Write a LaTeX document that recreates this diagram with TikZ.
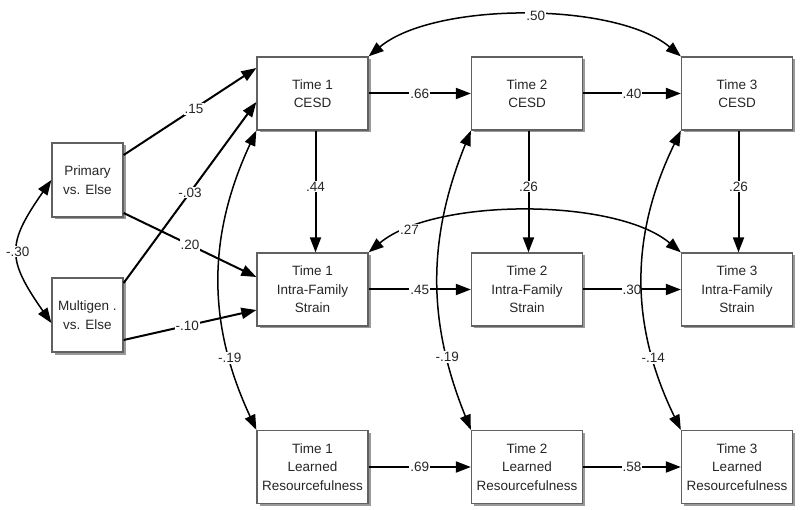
\documentclass[tikz,border=0pt]{standalone}
\usepackage{fontspec}
\setmainfont{Liberation Sans}
\usetikzlibrary{arrows.meta,shadows,calc}
\begin{document}
\begin{tikzpicture}[x=1pt,y=1pt,
  box/.style={draw=black!62, line width=1.3pt, fill=white, align=center, inner sep=0pt,
     text=black!85, font=\fontsize{13.5}{18.5}\selectfont,
     drop shadow={shadow xshift=2.5pt, shadow yshift=-2.5pt, fill=black!40, opacity=1}},
  mbox/.style={box, minimum width=111pt, minimum height=73pt},
  sbox/.style={box, minimum width=71pt, minimum height=74pt},
  tip/.tip={Triangle[length=15pt,width=11pt]},
  arr/.style={-tip, line width=2pt},
  carr/.style={tip-tip, line width=1.5pt},
  lbl/.style={fill=white, inner sep=1pt, text=black!85, font=\fontsize{13.5}{16}\selectfont}
]
\useasboundingbox (0,0) rectangle (800,-510);

% boxes
\node[sbox] (P) at (87.5,-180) {Primary\\vs. Else};
\node[sbox] (M) at (87.5,-315) {Multigen .\\vs. Else};
\node[mbox] (C1) at (312.5,-93.5) {Time 1\\CESD};
\node[mbox] (C2) at (527,-93.5) {Time 2\\CESD};
\node[mbox] (C3) at (737,-93.5) {Time 3\\CESD};
\node[mbox] (S1) at (312.5,-289.5) {Time 1\\Intra-Family\\Strain};
\node[mbox] (S2) at (527,-289.5) {Time 2\\Intra-Family\\Strain};
\node[mbox] (S3) at (737,-289.5) {Time 3\\Intra-Family\\Strain};
\node[mbox] (L1) at (312.5,-467) {Time 1\\Learned\\Resourcefulness};
\node[mbox] (L2) at (527,-467) {Time 2\\Learned\\Resourcefulness};
\node[mbox] (L3) at (737,-467) {Time 3\\Learned\\Resourcefulness};

% exogenous paths
\draw[arr] ([yshift=25pt]P.east) -- node[lbl,pos=0.53]{.15} ([yshift=25.5pt]C1.west);
\draw[arr] ([yshift=32pt]M.east) -- node[lbl,pos=0.5]{-.03} ([yshift=-8.5pt]C1.west);
\draw[arr] ([yshift=-33pt]P.east) -- node[lbl,pos=0.5]{.20} ([yshift=12.5pt]S1.west);
\draw[arr] ([yshift=-25pt]M.east) -- node[lbl,pos=0.48]{-.10} ([yshift=-20.5pt]S1.west);
\draw[carr] (P.west) to[out=235,in=125,looseness=1.4] node[lbl]{-.30} ([yshift=-8pt]M.west);

% horizontal paths
\draw[arr] (C1) -- node[lbl]{.66} (C2);
\draw[arr] (C2) -- node[lbl]{.40} (C3);
\draw[arr] (S1) -- node[lbl]{.45} (S2);
\draw[arr] (S2) -- node[lbl]{.30} (S3);
\draw[arr] (L1) -- node[lbl]{.69} (L2);
\draw[arr] (L2) -- node[lbl]{.58} (L3);

% vertical paths
\draw[arr] ([xshift=3pt]C1.south) -- node[lbl,pos=0.46]{.44} ([xshift=3pt]S1.north);
\draw[arr] ([xshift=1.5pt]C2.south) -- node[lbl,pos=0.46]{.26} ([xshift=1.5pt]S2.north);
\draw[arr] ([xshift=1.5pt]C3.south) -- node[lbl,pos=0.46]{.26} ([xshift=1.5pt]S3.north);

% correlations
\draw[carr] (C1.north east) to[out=40,in=140,looseness=0.7] node[lbl,pos=0.53]{.50} (C3.north west);
\draw[carr] (S1.north east) to[out=40,in=140,looseness=0.7] node[lbl,pos=0.165]{.27} (S3.north west);
\draw[carr] (C1.south west) to[out=245,in=115] node[lbl,pos=0.765]{-.19} (L1.north west);
\draw[carr] (C2.south west) to[out=248,in=112] node[lbl,pos=0.765]{-.19} (L2.north west);
\draw[carr] (C3.south west) to[out=244,in=116] node[lbl,pos=0.765]{-.14} (L3.north west);
\end{tikzpicture}
\end{document}
